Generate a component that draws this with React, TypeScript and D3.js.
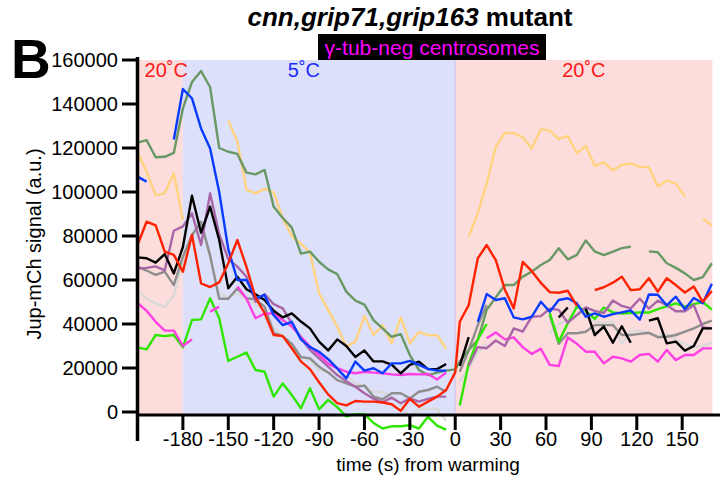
import { useEffect, useRef } from 'react';
import * as d3 from 'd3';

const WIDTH = 721;
const HEIGHT = 486;

// sample times (s) from warming: cold phase then warm phase
const coldTimes = [
  -210, -204, -198, -192, -186, -180, -174, -168, -162, -156, -150, -144,
  -138, -132, -126, -120, -114, -108, -102, -96, -90, -84, -78, -72,
  -66, -60, -54, -48, -42, -36, -30, -24, -18, -12, -6, 0,
];
const warmTimes = [
  3, 8.9, 14.9, 20.8, 26.8, 32.8, 38.7, 44.6, 50.6, 56.6, 62.5, 68.4, 74.4, 80.4,
  86.3, 92.2, 98.2, 104.2, 110.1, 116, 122, 128, 133.9, 139.8, 145.8, 151.8, 157.7,
  163.6, 169.6,
];

const xTicks = [-180, -150, -120, -90, -60, -30, 0, 30, 60, 90, 120, 150];
const yTicks = [0, 20000, 40000, 60000, 80000, 100000, 120000, 140000, 160000];

// phases: [start, end, fill]
const phases: [number, number, string][] = [
  [-210, -180, '#fddcdc'],
  [-180, 0, '#dde0fa'],
  [0, 170, '#fddcdc'],
];
const phaseLabels = [
  { t: -191, text: '20˚C', color: '#ff1a1a' },
  { t: -100, text: '5˚C', color: '#1a2cff' },
  { t: 85, text: '20˚C', color: '#ff1a1a' },
];

// Jup-mCh signal, thousands a.u. (cold values, then warm values); null = not tracked
const lightGray = [
  55.6, 51.4, 49.5, 47.7, 53, 68, 80, 85, 70, 54, 52, 54, 51, 49, 46, 38, 35, 29,
  25, 23.6, 19, 18, 17.9, 16.8, 13, 12, 9, 9.2, 7, 4, -3, 1.5, 1.5, 1.5, -4, null,
  14, 20, 27, 31, null, null, null, null, null, null, 36, 40, 42, 44, 46, 41, 40.6,
  41, 31, 37, 36.8, 36, 34.5, 35.3, 33, 30.8, 29.5, 30, 31.5,
];
const gray = [
  66.1, 64.3, 62.3, 63.8, 57.7, 70.6, 80.4, 86.5, 71, 51.5, 51.5, 56.2, 51.7, 51.2,
  47.9, 36, 34.5, 31, 25, 24.4, 20.6, 18, 14.5, 13, 11.5, 12, 7, 5.8, 8.5, 8.5,
  6.2, 9.2, 10, 11.5, 9.2, null,
  18.3, 28, 39.5, 48.6, null, null, null, null, null, null, 44, 31, 35.8, 35.8,
  36.5, 39.5, 39.5, 39.5, 35, 35, 35.5, 36, 34, 34.2, 35, 36.5, 38, 40, 41.5,
];
const yellow = [
  118.3, 109.2, 98.6, 99.4, 108.5, 87.3, null, null, null, null, 132.4, 123, 101.2,
  99.4, 101.4, 99.8, 88, 80, 76.5, 72.5, 54, 46.4, 38.8, 29.7, 32, 43.6, 35, 39.5,
  31.2, 43, 31.2, 36.4, 34.9, 34.9, 28.8, null,
  null, 79.7, 90.3, 103.9, 120.6, 126.8, 126.8, 124.9, 119.8, 128.6, 127.9, 124.1,
  125.4, 117.6, 121, 111.8, 113.5, 109.8, 112.4, 113, 111.5, 111.3, 102.5, 105.2,
  103.9, 97.9, null, 88, 84.8,
];
const sage = [
  122.4, 123.6, 115.8, 116, 117.8, 138, 150, 155, 147.6, 120, 118.3, 117.3, 108.8,
  108, 110, 93.3, 88.2, 83.8, 72, 72.9, 68.3, 64.8, 62.7, 54.7, 50.6, 48.8, 41.8,
  38, 34.2, 35.4, 25.9, 19.1, 16.8, 17.9, 18.8, 19.4,
  22.9, 28.2, 32.7, 46.4, 52.1, 57.7, 57.7, 61.5, 63.8, 66.8, 69.1, 74.4, 69.4,
  71.4, 78, 73, 71.3, 72.9, 74.5, 75.1, null, 73, 72.6, 67.6, 65.5, 63, 60, 61.3,
  67.6,
];
const green = [
  29.4, 28.5, 35, 34.5, 35, 29.4, 41.8, 42.1, 51.7, 42.6, 23.2, 25.1, 27, 19.1,
  18.3, 7, 13, 7.7, 1.7, 10.8, 1.2, 5.5, 2.2, -2, -1, -1, -5, -7.5, -6.5, -6.5,
  -6, -7.5, -2.2, -6.2, -8, null,
  3, 22, 33, 40, null, null, null, null, null, null, 45, 32, 40.3, 47.9, 46, 42.3,
  47.5, 45.3, 44.8, 45, 45.3, 45.2, 46.8, 48, 49.4, 47.9, 49, 50, 46.5,
];
const pink = [
  49.6, 46, 41, 37, 37, 30, 33, null, 45.6, 47.9, null, 57, 51.6, 42.6, 44.8, 44.8,
  41.8, 38.8, 34.2, 29.7, 26, 22, 19.9, 18.3, 17.6, 18.3, 17.9, 17.6, 17.1, 16.8,
  17.3, 17.1, 17.3, 14.8, 17.9, null,
  null, null, null, 33.5, 36.1, 33, 33.9, 29.5, 26.4, 28.7, 21.4, 20.9, 33.9, 31,
  27.4, 27.4, 22.1, 25.1, 24.4, 22.9, 25.9, 26.4, 22.9, 28.2, 23.6, 25.9, 25.9,
  28.9, 28.9,
];
const purple = [
  65.3, 65.5, 66.2, 64.4, 82.4, 84.4, 90.3, 75.9, 99.4, 80.8, 69.5, 66.1, 61.5,
  50.1, 53.6, 49, 47.1, 40.3, 33.5, 28.2, 24.4, 20.6, 16.8, 14, 11.5, 8.5, 6, 4.5,
  6.5, 4, 6.2, 4.7, 6, 7, 7, null,
  null, 21, 29.5, 29, 32.5, 30, 38, 36.5, 43.3, 43.6, 47, 46.4, 40.6, 44.1, 47.5,
  46, 45, 50.7, 48.2, 47.1, 51.5, 47, 50.6, 48.6, 45.8, 45.8, 48.6, 38.4, 38,
];
const black = [
  70.3, 69.9, 67.9, 71.8, 63, 75, 98.3, 81.5, 93.3, 78.2, 56.2, 61.5, 55.8, 53.5,
  50.9, 46, 43, 44.8, 41.1, 38, 32, 28, 33, 30, 25, 28, 23, 23, 21.5, 17.6, 21.4,
  22.9, 19.5, 19.5, 21.8, null,
  21, 34, null, null, null, null, null, null, null, null, null, 43, 47.5, null, 47,
  35, 38.8, 31.5, 39, 31.5, null, 41.5, 42.6, 31.2, 32, 27.9, 30, 38, 38,
];
const blue = [
  107, 104.7, null, null, 123.9, 146.8, 142.6, 128.9, 119.8, 100, 74, 60, 60, 51.7,
  53.2, 44, 39.5, 41, 33, 29.5, 27.4, 24, 19.8, 15.3, 22.9, 18.8, 19.9, 17.6, 22.1,
  22.1, 23.2, 21.4, 19.6, 18.8, 18.8, null,
  null, null, 41, 53.6, 50.9, 51.7, 43, 42.1, 43.3, 50.1, 45.6, 50.9, 51.7, 49.4,
  43.3, 44.8, 43.3, 44.5, 45.3, 46.2, 42, 53.4, 53.3, 48.5, 52.4, 46.7, 51.8, 49.4,
  58.3,
];
const red = [
  75.9, 86.5, 84.8, 72.9, 71.4, 63.8, 80.5, 58.5, 56.8, 58.9, 67.6, 78.2, 66, 52,
  45, 35, 34.5, 29, 23, 19.5, 13.5, 8, 4, 3, 5, 4.7, 4.7, 4.3, 3.5, 0.5, 6, 2.4,
  4.7, 7, 10, 18,
  41, 48.6, 69.8, 75.9, 69, 55.6, 47.1, 68.2, 64, 58.7, 54.5, 54.2, 55.1, 48.2,
  null, 55.4, 56.7, 58.8, 61.5, 55.4, 55.8, 60.8, 54.7, 60.8, 57.7, 54.3, 57, 50.1,
  55,
];

// drawing order: first is at the bottom
const seriesList = [
  { values: lightGray, color: '#d9d9d9' },
  { values: gray, color: '#8e8e8e' },
  { values: yellow, color: '#ffd37f' },
  { values: sage, color: '#689864' },
  { values: green, color: '#2ee600' },
  { values: pink, color: '#ff3fe3' },
  { values: purple, color: '#a866a8' },
  { values: black, color: '#000000' },
  { values: blue, color: '#0a3cff' },
  { values: red, color: '#ff2200' },
];

const FONT = '"Liberation Sans", Arial, Helvetica, sans-serif';

export default function App() {
  const svgRef = useRef<SVGSVGElement>(null);

  useEffect(() => {
    if (!svgRef.current) return;
    const svg = d3.select(svgRef.current);
    svg.selectAll('*').remove();

    const times = [...coldTimes, ...warmTimes];

    const x = d3.scaleLinear().domain([-210, 175]).range([137.5, 720]);
    const y = d3.scaleLinear().domain([0, 160000]).range([412, 60]);

    // temperature phase backgrounds
    svg.append('g')
      .selectAll('rect')
      .data(phases)
      .join('rect')
      .attr('x', d => x(d[0]))
      .attr('width', d => x(d[1]) - x(d[0]))
      .attr('y', y(160000))
      .attr('height', y(0) - y(160000) + 2)
      .attr('fill', d => d[2]);

    svg.append('line')
      .attr('x1', x(0)).attr('x2', x(0))
      .attr('y1', y(160000)).attr('y2', y(0))
      .attr('stroke', '#cdbfe8')
      .attr('stroke-width', 1);

    svg.append('g')
      .selectAll('text')
      .data(phaseLabels)
      .join('text')
      .attr('x', d => x(d.t))
      .attr('y', 77)
      .attr('text-anchor', 'middle')
      .attr('fill', d => d.color)
      .style('font-family', FONT)
      .style('font-size', '20px')
      .text(d => d.text);

    // traces
    const line = d3.line<[number, number | null]>()
      .defined(d => d[1] != null)
      .x(d => x(d[0]))
      .y(d => y((d[1] as number) * 1000));

    svg.append('g')
      .attr('fill', 'none')
      .attr('stroke-width', 2.4)
      .attr('stroke-linejoin', 'round')
      .selectAll('path')
      .data(seriesList)
      .join('path')
      .attr('stroke', d => d.color)
      .attr('d', d => line(times.map((t, i) => [t, d.values[i]] as [number, number | null])));

    // axes
    const axisY0 = 415;
    const axes = svg.append('g').attr('stroke', '#000').attr('stroke-width', 3);
    axes.append('line')
      .attr('x1', x(-210)).attr('x2', x(-210))
      .attr('y1', 57).attr('y2', 441)
      .attr('stroke-width', 3.5);
    axes.append('line')
      .attr('x1', x(-210)).attr('x2', 720)
      .attr('y1', axisY0).attr('y2', axisY0);
    axes.selectAll('.ytick')
      .data(yTicks)
      .join('line')
      .attr('class', 'ytick')
      .attr('x1', 122).attr('x2', x(-210))
      .attr('y1', d => y(d)).attr('y2', d => y(d));
    axes.selectAll('.xtick')
      .data(xTicks)
      .join('line')
      .attr('class', 'xtick')
      .attr('x1', d => x(d)).attr('x2', d => x(d))
      .attr('y1', axisY0).attr('y2', axisY0 + 15);

    svg.append('g')
      .selectAll('text')
      .data(yTicks)
      .join('text')
      .attr('x', 118)
      .attr('y', d => y(d))
      .attr('dy', '0.36em')
      .attr('text-anchor', 'end')
      .style('font-family', FONT)
      .style('font-size', '20px')
      .text(d => String(d));

    svg.append('g')
      .selectAll('text')
      .data(xTicks)
      .join('text')
      .attr('x', d => x(d))
      .attr('y', 446)
      .attr('text-anchor', 'middle')
      .style('font-family', FONT)
      .style('font-size', '20px')
      .text(d => String(d));

    svg.append('text')
      .attr('x', 428)
      .attr('y', 471)
      .attr('text-anchor', 'middle')
      .style('font-family', FONT)
      .style('font-size', '19px')
      .text('time (s) from warming');

    svg.append('text')
      .attr('transform', 'translate(41,244) rotate(-90)')
      .attr('text-anchor', 'middle')
      .style('font-family', FONT)
      .style('font-size', '20px')
      .text('Jup-mCh signal (a.u.)');

    // titles
    const title = svg.append('text')
      .attr('x', 410)
      .attr('y', 26)
      .attr('text-anchor', 'middle')
      .style('font-family', FONT)
      .style('font-size', '26px')
      .style('font-weight', 'bold');
    title.append('tspan').style('font-style', 'italic').text('cnn,grip71,grip163');
    title.append('tspan').text(' mutant');

    svg.append('rect')
      .attr('x', 318).attr('y', 34)
      .attr('width', 228).attr('height', 26)
      .attr('fill', '#000');
    svg.append('text')
      .attr('x', 432)
      .attr('y', 55)
      .attr('text-anchor', 'middle')
      .attr('fill', '#ff00ff')
      .style('font-family', FONT)
      .style('font-size', '21px')
      .text('γ-tub-neg centrosomes');

    svg.append('text')
      .attr('x', 11)
      .attr('y', 78)
      .style('font-family', FONT)
      .style('font-size', '55px')
      .style('font-weight', 'bold')
      .text('B');
  }, []);

  return (
    <div style={{ position: 'absolute', left: 0, top: 0 }}>
      <svg ref={svgRef} width={WIDTH} height={HEIGHT} style={{ display: 'block', background: '#fff' }} />
    </div>
  );
}
